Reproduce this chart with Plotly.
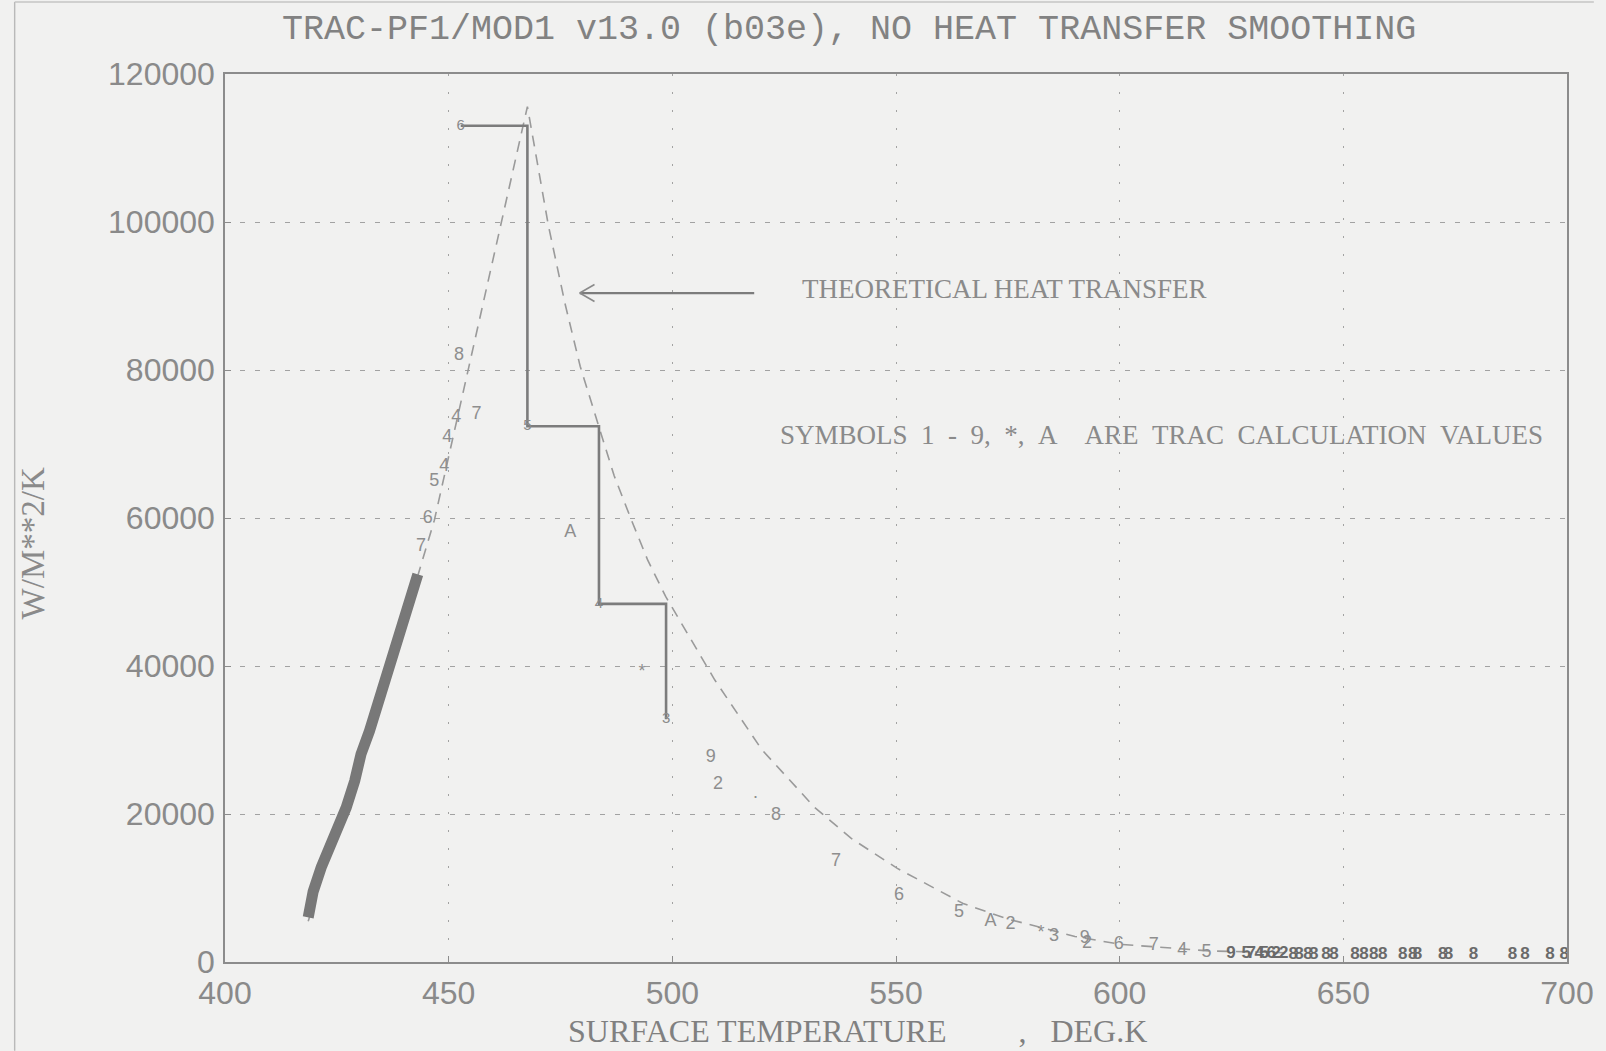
import plotly.graph_objects as go

# ---- data -------------------------------------------------------------
# dense band of TRAC points on the rising (nucleate boiling) branch
band_temp = [418.6, 419.7, 421.5, 423.4, 425.2, 427.1, 429.0, 430.4, 432.3,
             434.1, 436.0, 437.9, 439.7, 441.2, 443.1]
band_htc = [6030, 9500, 12780, 15480, 18180, 20880, 24480, 28080, 31220,
            34830, 38430, 42480, 46070, 49230, 52380]

# theoretical heat transfer curve (dashed)
theory_temp = [418.6, 431.0, 443.0, 446.8, 467.6, 472.3, 476.0, 479.4, 483.5,
               487.0, 490.8, 494.5, 498.5, 509.5, 520.0, 531.8, 540.0, 550.3,
               565.0, 575.0, 582.2, 590.0, 600.0, 620.0, 640.0]
theory_htc = [5500, 29500, 52000, 59700, 115600, 99500, 89000, 80500, 72500,
              65700, 59800, 54300, 49400, 38100, 28700, 20900, 16700, 12650,
              7900, 5800, 4700, 3450, 2400, 1500, 1200]

# stepped TRAC calculation path
step_temp = [452.7, 467.6, 467.6, 483.6, 483.6, 498.6, 498.6]
step_htc = [113000, 113000, 72400, 72400, 48400, 48400, 32800]

# symbols at the step corners
corner_temp = [452.7, 467.6, 483.6, 498.6]
corner_htc = [113000, 72400, 48400, 32800]
corner_sym = ["6", "5", "4", "3"]

# scattered TRAC calculation symbols
sym_temp = [452.3, 451.7, 456.2, 449.7, 449.0, 446.8, 445.3, 443.8,
            477.2, 493.2, 508.6, 510.2, 518.6, 523.2, 536.6, 550.7, 564.1,
            571.1, 575.6, 582.4, 585.3, 592.2, 592.7, 599.8, 607.6, 614.0,
            619.4]
sym_htc = [81950, 73600, 73950, 70900, 66900, 64900, 59950, 56100,
           58000, 39150, 27700, 23950, 22760, 19800, 13640, 9040, 6700,
           5530, 5040, 3870, 3500, 3200, 2500, 2400, 2200, 1500,
           1300]
sym_char = ["8", "4", "7", "4", "4", "5", "6", "7",
            "A", "*", "9", "2", ".", "8", "7", "6", "5",
            "A", "2", "*", "3", "9", "2", "6", "7", "4",
            "5"]

# crowded symbols running along the axis at high temperature
tail_temp = [624.9, 628.3, 629.4, 631.2, 632.3, 633.9, 635.0, 636.7, 638.8,
             640.1, 642.1, 643.4, 646.1, 647.9, 652.6, 654.6, 656.8, 658.8,
             663.3, 665.5, 666.6, 672.2, 673.5, 679.1, 687.8, 690.6, 696.2,
             699.4]
tail_htc = [1150, 1100, 1100, 1100, 1050, 1050, 1050, 1050, 1000,
            1000, 1000, 1000, 1000, 1000, 950, 950, 950, 950,
            950, 950, 950, 950, 950, 950, 950, 950, 950,
            950]
tail_sym = ["9", "5", "7", "4", "5", "6", "2", "2", "8",
            "8", "8", "8", "8", "8", "8", "8", "8", "8",
            "8", "8", "8", "8", "8", "8", "8", "8", "8",
            "8"]

x_ticks = [400, 450, 500, 550, 600, 650, 700]
y_ticks = [0, 20000, 40000, 60000, 80000, 100000, 120000]

# ---- styling ----------------------------------------------------------
BG = "#f1f1f0"
INK = "#8a8a8a"
SANS = "Liberation Sans, Arial, sans-serif"
MONO = "Liberation Mono, DejaVu Sans Mono, monospace"
SERIF = "Liberation Serif, DejaVu Serif, serif"
SP = "\u00a0"

L, R, T, B = 225, 22, 74, 89
PLOT_W = 1606 - L - R
PLOT_H = 1051 - T - B

fig = go.Figure()

fig.add_trace(go.Scatter(
    x=theory_temp, y=theory_htc, mode="lines",
    line=dict(color="#9a9a9a", width=1.6, dash="11px,8px"),
    hoverinfo="skip", showlegend=False))

fig.add_trace(go.Scatter(
    x=band_temp, y=band_htc, mode="lines",
    line=dict(color="#787878", width=11),
    hoverinfo="skip", showlegend=False))

fig.add_trace(go.Scatter(
    x=step_temp, y=step_htc, mode="lines",
    line=dict(color="#7c7c7c", width=2.6),
    hoverinfo="skip", showlegend=False))

fig.add_trace(go.Scatter(
    x=corner_temp, y=corner_htc, mode="text", text=corner_sym,
    textfont=dict(family=SANS, size=15, color="#8a8a8a"),
    hoverinfo="skip", showlegend=False))

fig.add_trace(go.Scatter(
    x=sym_temp, y=sym_htc, mode="text", text=sym_char,
    textfont=dict(family=SANS, size=18, color="#8e8e8e"),
    hoverinfo="skip", showlegend=False))

fig.add_trace(go.Scatter(
    x=tail_temp, y=tail_htc, mode="text", text=tail_sym,
    textfont=dict(family=SANS, size=17, color="#6a6a6a", weight="bold"),
    hoverinfo="skip", showlegend=False))

axis_common = dict(
    showline=True, mirror=True, linecolor="#8c8c8c", linewidth=1.5,
    ticks="inside", ticklen=6, tickcolor="#8c8c8c", tickwidth=1.2,
    gridcolor="#a2a2a2", gridwidth=1.4, zeroline=False,
    tickfont=dict(family=SANS, size=32, color=INK),
    ticklabeloverflow="allow",
)

fig.update_xaxes(
    range=[400, 700], tickvals=x_ticks, ticktext=[str(v) for v in x_ticks],
    griddash="2px,16px", ticklabelstandoff=2, **axis_common)
fig.update_yaxes(
    range=[0, 120000], tickvals=y_ticks, ticktext=[str(v) for v in y_ticks],
    griddash="5px,10px", ticklabelstandoff=2, **axis_common)

annotations = [
    dict(text="TRAC-PF1/MOD1 v13.0 (b03e), NO HEAT TRANSFER SMOOTHING",
         xref="paper", yref="paper", x=(857 - L) / PLOT_W, y=1.050,
         xanchor="center", yanchor="middle", showarrow=False,
         font=dict(family=MONO, size=35, color="#828282")),
    dict(text="SURFACE TEMPERATURE" + SP * 9 + "," + SP * 3 + "DEG.K",
         xref="paper", yref="paper", x=(866 - L) / PLOT_W, y=-0.078,
         xanchor="center", yanchor="middle", showarrow=False,
         font=dict(family=SERIF, size=32, color="#808080")),
    dict(text="W/M**2/K", textangle=-90,
         xref="paper", yref="paper", x=(31 - L) / PLOT_W, y=(962 - 543) / PLOT_H,
         xanchor="center", yanchor="middle", showarrow=False,
         font=dict(family=SERIF, size=33, color="#8a8a8a")),
    dict(text="THEORETICAL HEAT TRANSFER",
         xref="x", yref="y", x=528.6, y=90900,
         xanchor="left", yanchor="middle", showarrow=False,
         font=dict(family=SERIF, size=27, color="#8a8a8a")),
    dict(text=(" " + SP).join(["SYMBOLS", "1", "-", "9,", "*,", "A" + SP + SP,
                               "ARE", "TRAC", "CALCULATION", "VALUES"]),
         xref="x", yref="y", x=523.6, y=71200,
         xanchor="left", yanchor="middle", showarrow=False,
         font=dict(family=SERIF, size=27, color="#8a8a8a")),
]

# arrow pointing at the theoretical curve
arrow_y = 90400
shapes = [
    dict(type="line", xref="x", yref="y", x0=479.3, x1=518.3,
         y0=arrow_y, y1=arrow_y, line=dict(color="#7c7c7c", width=2.2)),
    dict(type="line", xref="x", yref="y", x0=479.3, x1=482.6,
         y0=arrow_y, y1=arrow_y + 1150, line=dict(color="#8a8a8a", width=1.6)),
    dict(type="line", xref="x", yref="y", x0=479.3, x1=482.6,
         y0=arrow_y, y1=arrow_y - 1150, line=dict(color="#8a8a8a", width=1.6)),
    # page border from the original sheet
    dict(type="line", xref="paper", yref="paper",
         x0=(12 - L) / PLOT_W, x1=(12 - L) / PLOT_W, y0=-0.1, y1=1.081,
         line=dict(color="#b9b9b9", width=1.4)),
    dict(type="line", xref="paper", yref="paper",
         x0=(12 - L) / PLOT_W, x1=1.02, y0=1.081, y1=1.081,
         line=dict(color="#c4c4c4", width=1.4)),
]

fig.update_layout(
    width=1606, height=1051,
    margin=dict(l=L, r=R, t=T, b=B),
    paper_bgcolor=BG, plot_bgcolor=BG,
    showlegend=False,
    annotations=annotations,
    shapes=shapes,
)

fig.write_html("out.html")
